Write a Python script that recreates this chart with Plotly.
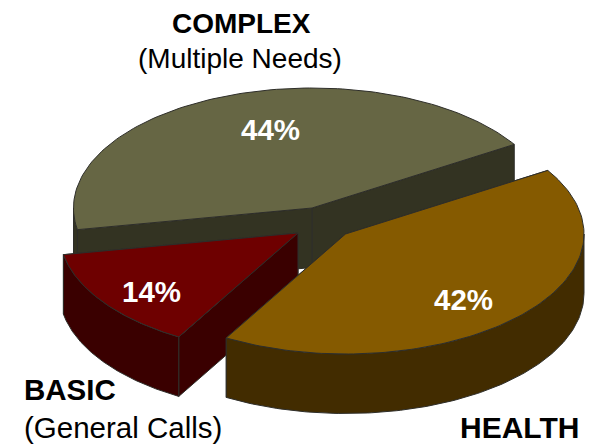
import numpy as np
import plotly.graph_objects as go

# Data
slice_names = ["COMPLEX", "BASIC", "HEALTH"]
slice_values = [44, 14, 42]

# Styling / geometry of the drawing
top_colors = ["#666644", "#6e0000", "#855a00"]
side_colors = ["#333322", "#3a0000", "#422c00"]
apexes = [(312, 208), (298, 233), (345.5, 234)]
label_xy = [(270, 129), (151, 291), (463, 299)]
START_DEG = 32.0
BOUNDARY_TILT_DEG = [0.0, -0.8, 0.0]   # small correction for the tilted 3-D view
RX, RY, DEPTH = 238.5, 120.0, 59.5
EDGE = dict(color="#2e2e2a", width=1)


def arc(cx, cy, a0, a1, n=120):
    t = np.radians(np.linspace(a0, a1, n))
    return cx + RX * np.cos(t), cy - RY * np.sin(t)


fig = go.Figure()


def poly(xs, ys, color):
    fig.add_trace(go.Scatter(x=list(xs) + [xs[0]], y=list(ys) + [ys[0]], mode="lines",
                             fill="toself", fillcolor=color, line=EDGE,
                             hoverinfo="skip", showlegend=False))


total = sum(slice_values)
spans = []
a = START_DEG
cum = START_DEG
for v, tilt in zip(slice_values, BOUNDARY_TILT_DEG):
    cum += 360.0 * v / total
    b = cum + tilt
    spans.append((a, b))
    a = b


def draw(i):
    a0, a1 = spans[i]
    cx, cy = apexes[i]
    xa, ya = arc(cx, cy, a0, a1)
    # inner faces
    for end_x, end_y in ((xa[0], ya[0]), (xa[-1], ya[-1])):
        poly([cx, end_x, end_x, cx], [cy, end_y, end_y + DEPTH, cy + DEPTH], side_colors[i])
    # outer rim: only the front half (180..360 degrees)
    lo, hi = max(a0, 180.0), min(a1, 360.0)
    if hi > lo:
        xr, yr = arc(cx, cy, lo, hi)
        poly(list(xr) + list(xr[::-1]), list(yr) + list((yr + DEPTH)[::-1]), side_colors[i])
    poly([cx] + list(xa), [cy] + list(ya), top_colors[i])


# COMPLEX is furthest back, then BASIC, then HEALTH in front
draw(0)
draw(1)
draw(2)

FONT = "Liberation Sans, Arial, sans-serif"
notes = []
for (x, y), v in zip(label_xy, slice_values):
    notes.append(dict(x=x, y=y, text=f"<b>{v}%</b>", showarrow=False,
                      font=dict(family=FONT, size=29.5, color="white")))
notes += [
    dict(x=241, y=23, text="<b>COMPLEX</b>", showarrow=False, font=dict(family=FONT, size=28, color="black")),
    dict(x=240, y=58, text="(Multiple Needs)", showarrow=False, font=dict(family=FONT, size=28, color="black")),
    dict(x=22, y=389, xanchor="left", text="<b>BASIC</b>", showarrow=False, font=dict(family=FONT, size=29.5, color="black")),
    dict(x=22, y=427, xanchor="left", text="(General Calls)", showarrow=False, font=dict(family=FONT, size=29.5, color="black")),
    dict(x=519, y=427, text="<b>HEALTH</b>", showarrow=False, font=dict(family=FONT, size=30, color="black")),
]

fig.update_layout(
    width=591, height=447, margin=dict(l=0, r=0, t=0, b=0),
    paper_bgcolor="white", plot_bgcolor="white", showlegend=False,
    xaxis=dict(range=[0, 591], visible=False, fixedrange=True),
    yaxis=dict(range=[447, 0], visible=False, fixedrange=True),
    annotations=notes,
)
fig.write_html("out.html", config={"displayModeBar": False},
               post_script="document.body.style.margin='0';document.body.style.overflow='hidden';")
